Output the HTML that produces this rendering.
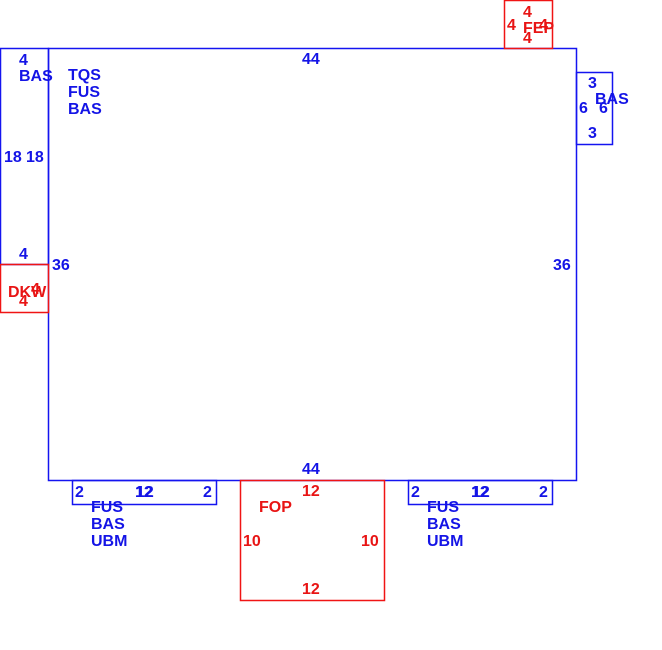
<!DOCTYPE html>
<html><head><meta charset="utf-8"><style>
html,body{margin:0;padding:0;background:#fff;width:662px;height:650px;overflow:hidden}
svg text{font-family:"Liberation Sans",Arial,sans-serif;font-weight:bold;font-size:16px}
.b{fill:#1414e6}.r{fill:#e81414}
</style></head><body>
<svg width="662" height="650" viewBox="0 0 662 650" xmlns="http://www.w3.org/2000/svg">
<g fill="none" stroke-width="1.5">
<rect x="48.5" y="48.5" width="528" height="432" stroke="#1414f0"/>
<rect x="0.5" y="48.5" width="48" height="216" stroke="#1414f0"/>
<rect x="0.5" y="264.5" width="48" height="48" stroke="#f01414"/>
<rect x="504.5" y="0.5" width="48" height="48" stroke="#f01414"/>
<rect x="576.5" y="72.5" width="36" height="72" stroke="#1414f0"/>
<rect x="72.5" y="480.5" width="144" height="24" stroke="#1414f0"/>
<rect x="408.5" y="480.5" width="144" height="24" stroke="#1414f0"/>
<rect x="240.5" y="480.5" width="144" height="120" stroke="#f01414"/>
</g>
<g transform="translate(0,1)">
<g class="b">
<text x="19" y="64">4</text>
<text x="19" y="80">BAS</text>
<text x="68" y="79">TQS</text>
<text x="68" y="96">FUS</text>
<text x="68" y="113">BAS</text>
<text x="4" y="161">18</text>
<text x="26" y="161">18</text>
<text x="19" y="258">4</text>
<text x="52" y="269">36</text>
<text x="302" y="63">44</text>
<text x="553" y="269">36</text>
<text x="302" y="473">44</text>
<text x="588" y="87">3</text>
<text x="595" y="103">BAS</text>
<text x="579" y="112">6</text>
<text x="599" y="112">6</text>
<text x="588" y="137">3</text>
<text x="75" y="496">2</text>
<text x="135" y="496">12</text>
<text x="136" y="496">12</text>
<text x="203" y="496">2</text>
<text x="91" y="511">FUS</text>
<text x="91" y="528">BAS</text>
<text x="91" y="545">UBM</text>
<text x="411" y="496">2</text>
<text x="471" y="496">12</text>
<text x="472" y="496">12</text>
<text x="539" y="496">2</text>
<text x="427" y="511">FUS</text>
<text x="427" y="528">BAS</text>
<text x="427" y="545">UBM</text>
</g>
<g class="r">
<text x="523" y="16">4</text>
<text x="507" y="29">4</text>
<text x="523" y="32">FEP</text>
<text x="539" y="29">4</text>
<text x="523" y="42">4</text>
<text x="8" y="296">DKW</text>
<text x="31" y="293">4</text>
<text x="19" y="305">4</text>
<text x="302" y="495">12</text>
<text x="259" y="511">FOP</text>
<text x="243" y="545">10</text>
<text x="361" y="545">10</text>
<text x="302" y="593">12</text>
</g>
</g>
</svg>
</body></html>
